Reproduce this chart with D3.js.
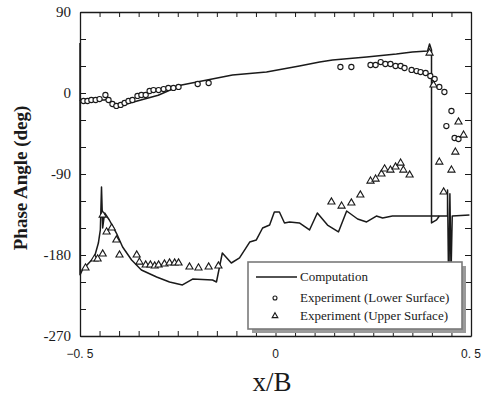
<!DOCTYPE html>
<html>
<head>
<meta charset="utf-8">
<script src="https://cdn.jsdelivr.net/npm/d3@7/dist/d3.min.js"></script>
<style>
  html, body { margin: 0; padding: 0; background: #fff; }
  svg { display: block; }
</style>
</head>
<body>
<svg id="chart" width="481" height="397"></svg>
<script>
// Computed phase angle, upper branch (x/B, deg)
const compUpperX = [-0.5, -0.5, -0.437, -0.427, -0.407, -0.391, -0.30, -0.240, -0.110, -0.023, 0.061, 0.113, 0.146, 0.233, 0.309, 0.350, 0.389, 0.394, 0.399, 0.399, 0.412, 0.419];
const compUpperY = [55.6, -7.8, -7.8, -6.5, -15.6, -13.3, -2.5, 8.9, 20, 23.3, 30, 34.4, 36.7, 40, 43.3, 45.6, 46.7, 54.4, 47.8, -144.4, -141, -136.7];

// Computed phase angle, lower branch (x/B, deg)
const compLowerX = [-0.5, -0.5, -0.494, -0.463, -0.453, -0.448, -0.445, -0.442, -0.437, -0.425, -0.407, -0.391, -0.368, -0.343, -0.304, -0.271, -0.238, -0.212, -0.161, -0.151, -0.136, -0.113, -0.092, -0.066, -0.049, -0.033, -0.015, -0.003, 0.010, 0.023, 0.036, 0.061, 0.087, 0.107, 0.133, 0.161, 0.182, 0.210, 0.233, 0.258, 0.274, 0.299, 0.343, 0.399, 0.440, 0.440, 0.443, 0.446, 0.449, 0.452, 0.496];
const compLowerY = [-7.8, -202, -196.7, -182.2, -166.7, -152.2, -104.4, -150, -133.3, -141.1, -155.6, -171.1, -185.6, -196.7, -204.4, -210, -213.3, -206.7, -207.8, -210, -177.8, -188.9, -183.3, -165.6, -163.3, -150, -146.7, -132.2, -132.2, -144.4, -143.3, -144.4, -152.2, -133.3, -146.7, -154.4, -131.1, -140, -143.3, -136.7, -138.9, -136.7, -136.7, -136.7, -136.7, -107.8, -224.4, -112, -200, -136.7, -135.6];

// Measured, lower surface (circles)
const lowerSurfX = [-0.491, -0.481, -0.471, -0.460, -0.450, -0.435, -0.427, -0.417, -0.407, -0.396, -0.386, -0.376, -0.366, -0.353, -0.343, -0.332, -0.322, -0.312, -0.299, -0.286, -0.274, -0.261, -0.248, -0.199, -0.171, 0.166, 0.194, 0.243, 0.256, 0.269, 0.281, 0.294, 0.307, 0.320, 0.330, 0.348, 0.361, 0.371, 0.384, 0.396, 0.407, 0.419, 0.432, 0.450, 0.437, 0.458, 0.468];
const lowerSurfY = [-8.9, -8.9, -7.8, -7.8, -6.7, -2.2, -7.8, -12.2, -14.4, -13.3, -11.1, -8.9, -7.8, -3.3, -2.2, -2.2, 2.2, 3.3, 3.3, 4.4, 5.6, 5.6, 6.7, 10, 11.1, 28.9, 28.9, 31.1, 31.1, 34.4, 32.2, 32.2, 30, 30, 27.8, 25.6, 24.4, 23.3, 22.2, 18.9, 15.6, 6.7, 1.1, -20, -36.7, -50, -51.1];

// Measured, upper surface (triangles)
const upperSurfX = [-0.486, -0.463, -0.455, -0.442, -0.442, -0.432, -0.419, -0.407, -0.399, -0.355, -0.348, -0.332, -0.320, -0.309, -0.299, -0.284, -0.271, -0.258, -0.248, -0.220, -0.197, -0.171, -0.146, 0.143, 0.169, 0.194, 0.217, 0.243, 0.256, 0.271, 0.279, 0.294, 0.307, 0.320, 0.327, 0.343, 0.394, 0.404, 0.468, 0.481, 0.460, 0.419, 0.450, 0.430];
const upperSurfY = [-194.4, -184.4, -184.4, -178.9, -135.6, -154.4, -150, -163.3, -180, -180, -187.8, -191.1, -191.1, -192.2, -191.1, -190, -188.9, -188.9, -188.9, -193.3, -194.4, -193.3, -192.2, -121.1, -125.6, -122.2, -113.3, -97.8, -95.6, -90, -84.4, -85.6, -82.2, -77.8, -85.6, -91.1, 44.4, 8.9, -32.2, -46.7, -65.6, -76.7, -85.6, -110];

// Axis ticks and labels
const xTicks = d3.range(-10, 11).map(i => i * 0.05);
const xLabelValues = [-0.5, 0, 0.5];
const xLabelTexts = ["\u22120. 5", "0", "0. 5"];
const yTicks = d3.range(-9, 4).map(i => i * 30);
const yLabelValues = [90, 0, -90, -180, -270];
const yLabelTexts = ["90", "0", "-90", "-180", "-270"];

const legendLabels = ["Computation", "Experiment (Lower Surface)", "Experiment (Upper Surface)"];

const svg = d3.select("#chart");
const plotLeft = 80, plotRight = 471, plotTop = 12, plotBottom = 336;

const x = d3.scaleLinear().domain([-0.5, 0.5]).range([plotLeft, plotRight]);
const y = d3.scaleLinear().domain([-270, 90]).range([plotBottom, plotTop]);

const ink = "#1a1a1a";
const serif = "'Liberation Serif', 'Times New Roman', serif";
const sans = "'Liberation Sans', Arial, sans-serif";

// Frame with inward ticks on all four sides
function styleAxis(g) {
  g.select(".domain").attr("stroke", ink).attr("stroke-width", 1.3);
  g.selectAll(".tick line").attr("stroke", ink).attr("stroke-width", 1);
  g.selectAll(".tick text").remove();
}
svg.append("g").attr("transform", `translate(0,${plotBottom})`)
  .call(d3.axisBottom(x).tickValues(xTicks).tickSizeInner(-5).tickSizeOuter(0)).call(styleAxis);
svg.append("g").attr("transform", `translate(0,${plotTop})`)
  .call(d3.axisTop(x).tickValues(xTicks).tickSizeInner(-5).tickSizeOuter(0)).call(styleAxis);
svg.append("g").attr("transform", `translate(${plotLeft},0)`)
  .call(d3.axisLeft(y).tickValues(yTicks).tickSizeInner(-6).tickSizeOuter(0)).call(styleAxis);
svg.append("g").attr("transform", `translate(${plotRight},0)`)
  .call(d3.axisRight(y).tickValues(yTicks).tickSizeInner(-6).tickSizeOuter(0)).call(styleAxis);

// Tick labels
svg.append("g").selectAll("text").data(xLabelValues).join("text")
  .attr("x", d => x(d)).attr("y", 358)
  .attr("text-anchor", "middle")
  .attr("font-family", sans).attr("font-size", 12).attr("fill", ink)
  .text((d, i) => xLabelTexts[i]);
svg.append("g").selectAll("text").data(yLabelValues).join("text")
  .attr("x", 71).attr("y", d => y(d) + 5)
  .attr("text-anchor", "end")
  .attr("font-family", serif).attr("font-size", 15).attr("fill", ink)
  .text((d, i) => yLabelTexts[i]);

// Axis titles
svg.append("text")
  .attr("transform", "translate(27,178) rotate(-90)")
  .attr("text-anchor", "middle")
  .attr("font-family", serif).attr("font-weight", "bold").attr("font-size", 19).attr("fill", ink)
  .text("Phase Angle (deg)");
svg.append("text")
  .attr("x", 272).attr("y", 391)
  .attr("text-anchor", "middle")
  .attr("font-family", serif).attr("font-size", 27).attr("fill", ink)
  .text("x/B");

// Computation curves
const line = d3.line().x(d => x(d[0])).y(d => y(d[1]));
const plot = svg.append("g");
plot.append("path").datum(d3.zip(compUpperX, compUpperY))
  .attr("d", line).attr("fill", "none").attr("stroke", ink).attr("stroke-width", 1.5).attr("stroke-linejoin", "round");
plot.append("path").datum(d3.zip(compLowerX, compLowerY))
  .attr("d", line).attr("fill", "none").attr("stroke", ink).attr("stroke-width", 1.5).attr("stroke-linejoin", "round");

// Experimental markers
const tri = d3.symbol().type(d3.symbolTriangle).size(22);
plot.append("g").selectAll("circle").data(d3.zip(lowerSurfX, lowerSurfY)).join("circle")
  .attr("cx", d => x(d[0])).attr("cy", d => y(d[1])).attr("r", 2.6)
  .attr("fill", "#fff").attr("stroke", ink).attr("stroke-width", 1.1);
plot.append("g").selectAll("path").data(d3.zip(upperSurfX, upperSurfY)).join("path")
  .attr("transform", d => `translate(${x(d[0])},${y(d[1])})`)
  .attr("d", tri).attr("fill", "#fff").attr("stroke", ink).attr("stroke-width", 1.1);

// Legend box with drop shadow
const lg = svg.append("g");
lg.append("rect").attr("x", 252).attr("y", 266).attr("width", 214).attr("height", 67).attr("fill", "#9a9a9a");
lg.append("rect").attr("x", 248).attr("y", 262).attr("width", 214).attr("height", 67)
  .attr("fill", "#fff").attr("stroke", "#7a7a7a").attr("stroke-width", 1.6);
const rowY = [277, 298, 316];
lg.append("line").attr("x1", 256).attr("x2", 297).attr("y1", rowY[0]).attr("y2", rowY[0])
  .attr("stroke", ink).attr("stroke-width", 1.3);
lg.append("circle").attr("cx", 275).attr("cy", rowY[1]).attr("r", 2)
  .attr("fill", "#fff").attr("stroke", ink).attr("stroke-width", 1.1);
lg.append("path").attr("transform", `translate(275,${rowY[2]})`)
  .attr("d", d3.symbol().type(d3.symbolTriangle).size(14)).attr("fill", "#fff").attr("stroke", ink).attr("stroke-width", 1.1);
lg.selectAll("text.lab").data(legendLabels).join("text").attr("class", "lab")
  .attr("x", 300).attr("y", (d, i) => rowY[i] + 4)
  .attr("font-family", serif).attr("font-size", 13).attr("fill", ink)
  .text(d => d);
</script>
</body>
</html>
